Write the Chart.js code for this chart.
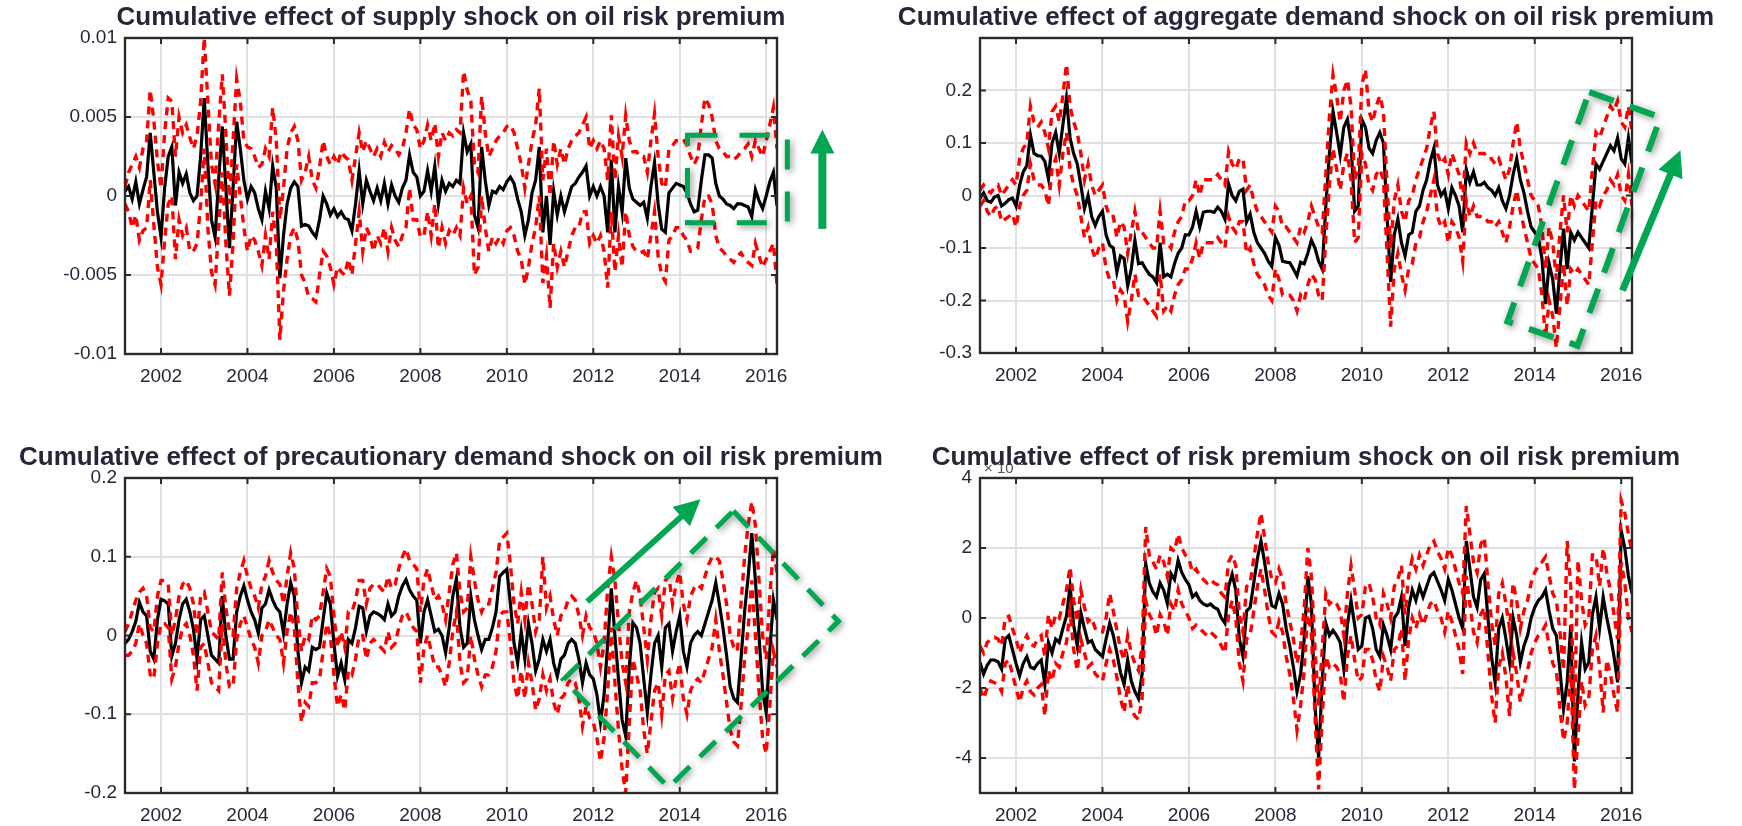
<!DOCTYPE html>
<html>
<head>
<meta charset="utf-8">
<script src="https://cdn.jsdelivr.net/npm/chart.js@4.4.1/dist/chart.umd.min.js"></script>
<style>
  html, body { margin: 0; padding: 0; background: #fff; width: 1742px; height: 826px; overflow: hidden; position: relative; }
  canvas { position: absolute; }
</style>
</head>
<body>
<script>
// monthly sample, Mar 2001 .. Apr 2016 (182 months)
const firstMonth = 2001 + 2 / 12;
const nMonths = 182;
const months = Array.from({ length: nMonths }, (_, i) => firstMonth + i / 12);
const xTicks = [2002, 2004, 2006, 2008, 2010, 2012, 2014, 2016];

// ---- supply shock (units of 1e-3) ----
const supplyMid = [
  0.3, 0.6, -0.2, 0.9, -0.5, 0.4, 1.2, 4.0, 1.5, -1.0,
  -2.6, 0.5, 2.5, 3.1, -0.6, 1.5, 0.8, 1.4, 0.2, -0.3, 0.0, 2.5,
  6.2, 2.0, -1.5, -2.6, 1.0, 4.4, 0.5, -3.3, 0.5, 4.7, 3.0, 1.0,
  -0.2, 0.6, 0.2, -0.8, -1.5, 0.3, -0.8, 1.9, 0.5, -5.2, -2.5, -0.5,
  0.5, 0.9, 0.6, -1.9, -1.8, -1.9, -2.3, -2.6, -1.5, 0.0, -0.5, -1.2,
  -0.8, -1.3, -1.0, -1.4, -1.5, -2.2, -0.5, 1.6, -0.5, 1.0, 0.3, -0.3,
  0.5, -0.3, 0.8, -0.5, 0.7, 0.0, -0.4, 0.5, 1.0, 2.6, 1.5, 1.2,
  0.0, 0.3, 1.6, 0.3, 1.9, -0.5, 1.0, 0.3, 0.8, 0.6, 1.0, 0.8,
  4.0, 2.8, 3.3, -1.2, -2.0, 3.1, 1.0, -0.6, 0.3, 0.2, 0.6, 0.4,
  0.9, 1.2, 0.8, -0.2, -1.0, -2.5, -1.5, 0.2, 1.0, 3.1, -2.3, 0.0,
  -3.1, 0.3, -1.2, 0.0, -1.0, -0.2, 0.6, 0.8, 1.2, 1.5, 1.9, 0.0,
  0.6, 0.0, 0.6, 0.0, -2.3, 2.3, -2.3, 0.6, -1.0, 2.4, 0.5, -0.2,
  -0.4, -0.6, -0.4, -1.4, 0.6, 2.1, -0.5, -2.1, -2.3, 0.2, 0.5, 0.8,
  0.7, 0.6, 0.2, -0.5, -1.0, -0.9, 1.0, 2.6, 2.6, 2.4, 0.8, 0.0,
  -0.2, -0.5, -0.6, -0.8, -0.5, -0.5, -0.6, -0.7, -1.3, 0.4, -0.3, -0.8,
  0.0, 0.9, 1.5, -0.6
];
const supplyUp = [
  0.6, 1.5, 2.0, 2.5, 1.8, 3.0, 3.5, 6.7, 4.8, 2.2,
  0.5, 4.0, 6.2, 6.0, 2.5, 5.0, 4.0, 4.5, 3.7, 3.0, 3.8, 6.0,
  10.0, 6.0, 2.0, 0.8, 4.5, 7.7, 4.0, -0.5, 3.5, 7.4, 6.0, 3.5,
  3.1, 3.0, 2.5, 1.8, 2.0, 3.0, 2.5, 5.6, 3.5, -1.5, 0.5, 3.0,
  4.0, 4.4, 3.5, 1.0, 1.5, 2.5, 1.0, 0.5, 1.8, 3.5, 2.5, 2.0,
  2.5, 2.0, 2.8, 2.5, 2.3, 1.0, 2.5, 4.0, 2.8, 3.5, 3.0, 2.5,
  3.0, 2.5, 3.4, 2.8, 3.2, 3.0, 2.6, 3.0, 4.0, 5.5, 4.5, 4.2,
  3.0, 3.5, 4.5, 3.5, 4.6, 2.5, 4.0, 3.5, 4.0, 3.8, 4.2, 4.0,
  7.9, 6.7, 6.0, 2.0, 1.5, 6.3, 4.0, 2.5, 3.0, 3.5, 3.8, 4.0,
  4.4, 4.5, 4.0, 3.0, 2.0, 0.5, 2.0, 3.5, 4.5, 6.8, 1.0, 3.0,
  0.0, 3.5, 2.0, 3.0, 2.0, 3.0, 3.5, 3.8, 4.0, 4.5, 5.0, 3.0,
  3.5, 3.0, 3.5, 3.0, 1.0, 5.1, 1.0, 3.8, 2.5, 5.1, 3.5, 2.8,
  2.8, 2.5, 2.5, 1.5, 3.5, 5.2, 2.5, 0.8, 0.5, 3.0, 3.2, 3.5,
  3.5, 3.6, 3.2, 2.5, 2.0, 2.5, 4.5, 6.2, 5.8, 5.0, 3.5, 3.0,
  2.8, 2.5, 2.5, 2.3, 2.5, 2.8, 3.0, 3.3, 2.5, 3.5, 3.0, 2.5,
  3.5, 4.5, 5.6, 3.0
];
const supplyLow = [
  -0.5, -1.0, -2.0, -1.2, -2.8, -2.2, -2.0, 1.0, -1.8, -4.5,
  -5.6, -2.8, -0.5, 0.0, -4.0, -1.5, -2.5, -2.0, -3.5, -3.5, -3.0, -0.5,
  3.0, -2.0, -4.8, -5.6, -2.0, 1.5, -3.0, -6.3, -3.0, 2.0, 0.0, -2.0,
  -3.5, -2.5, -2.8, -3.5, -4.4, -2.5, -4.0, -1.0, -3.0, -9.1, -6.0, -4.0,
  -2.5, -2.0, -2.8, -5.0, -5.5, -6.4, -6.5, -6.7, -5.0, -3.5, -3.8, -4.5,
  -5.6, -4.5, -4.8, -5.0, -4.0, -5.0, -3.0, -1.0, -3.5, -2.0, -2.5, -3.5,
  -2.5, -3.0, -2.0, -3.5, -2.0, -2.8, -3.2, -2.5, -2.0, 0.5, -1.5, -1.5,
  -2.6, -2.5, -1.0, -2.5, -0.5, -3.3, -2.0, -3.0, -2.2, -2.5, -2.0, -2.5,
  0.5, -0.5, 0.0, -5.0, -4.5, 0.0, -2.0, -3.5, -2.6, -3.0, -2.6, -3.0,
  -2.2, -2.0, -2.5, -3.5, -4.0, -5.6, -4.5, -3.0, -2.0, 0.0, -5.5, -3.8,
  -7.1, -3.0, -4.5, -3.5, -4.5, -3.5, -2.5, -2.0, -2.0, -1.0, -1.0, -3.0,
  -2.5, -3.0, -2.5, -3.5, -5.8, -1.0, -4.8, -2.5, -4.5, -1.0, -2.5, -3.2,
  -3.5, -3.6, -3.5, -4.0, -2.5, -1.0, -3.8, -5.0, -5.4, -2.8, -2.5, -2.0,
  -2.0, -2.5, -2.8, -3.5, -3.5, -3.3, -1.5, 0.0, 0.0, -0.5, -2.5, -3.3,
  -3.5, -3.8, -4.0, -4.2, -3.8, -3.6, -4.0, -4.2, -4.4, -3.0, -3.8, -4.5,
  -4.0, -3.5, -3.0, -5.6
];
const supplyTicks = [-10, -5, 0, 5, 10];
const supplyTickLabels = ['-0.01', '-0.005', '0', '0.005', '0.01'];

// ---- aggregate demand shock ----
const demandMid = [
  -0.006, 0.005, -0.01, -0.013, -0.003, 0.0, -0.02, -0.015, -0.008, -0.005,
  -0.02, 0.02, 0.045, 0.057, 0.115, 0.08, 0.076, 0.075, 0.065, 0.032, 0.1, 0.12,
  0.08, 0.134, 0.185, 0.11, 0.08, 0.06, 0.02, -0.025, 0.0, -0.04, -0.057, -0.04,
  -0.03, -0.075, -0.095, -0.1, -0.146, -0.115, -0.12, -0.172, -0.14, -0.085, -0.13, -0.128,
  -0.14, -0.15, -0.155, -0.166, -0.09, -0.155, -0.15, -0.155, -0.13, -0.11, -0.1, -0.075,
  -0.075, -0.06, -0.03, -0.06, -0.032, -0.03, -0.03, -0.032, -0.022, -0.03, -0.045, 0.022,
  0.0, -0.01, 0.008, 0.012, -0.05, -0.035, -0.07, -0.09, -0.1, -0.11, -0.125, -0.135,
  -0.08, -0.095, -0.125, -0.127, -0.128, -0.14, -0.153, -0.127, -0.13, -0.11, -0.085, -0.1,
  -0.125, -0.14, -0.02, 0.08, 0.16, 0.12, 0.077, 0.13, 0.145, 0.1, -0.03, -0.02,
  0.145, 0.13, 0.09, 0.08, 0.105, 0.12, 0.1, -0.04, -0.165, -0.075, -0.045, -0.09,
  -0.115, -0.075, -0.07, -0.03, -0.02, 0.01, 0.03, 0.065, 0.09, 0.02, 0.0, 0.01,
  -0.025, 0.015, 0.0, -0.02, -0.07, 0.05, 0.025, 0.045, 0.02, 0.02, 0.025, 0.015,
  0.01, 0.0, 0.015, -0.01, -0.025, 0.0, 0.04, 0.07, 0.03, 0.005, -0.03, -0.06,
  -0.07, -0.08, -0.12, -0.207, -0.13, -0.16, -0.225, -0.14, -0.063, -0.14, -0.07, -0.085,
  -0.07, -0.08, -0.09, -0.1, -0.02, 0.06, 0.05, 0.065, 0.08, 0.095, 0.085, 0.11,
  0.07, 0.06, 0.11, 0.06
];
const demandUp = [
  0.01, 0.02, 0.01, 0.005, 0.015, 0.02, 0.0, 0.01, 0.02, 0.03,
  0.02, 0.07, 0.09, 0.1, 0.17, 0.14, 0.13, 0.14, 0.12, 0.09, 0.16, 0.17,
  0.14, 0.19, 0.25, 0.17, 0.14, 0.12, 0.08, 0.03, 0.06, 0.02, 0.0, 0.01,
  0.02, -0.02, -0.04, -0.04, -0.08, -0.05, -0.06, -0.11, -0.07, -0.03, -0.07, -0.07,
  -0.08, -0.09, -0.1, -0.1, -0.03, -0.09, -0.09, -0.1, -0.07, -0.05, -0.04, -0.01,
  -0.01, 0.0, 0.03, 0.0, 0.03, 0.03, 0.03, 0.03, 0.04, 0.03, 0.02, 0.083,
  0.06, 0.05, 0.07, 0.07, 0.01, 0.02, -0.01, -0.03, -0.04, -0.05, -0.06, -0.07,
  -0.02, -0.03, -0.06, -0.06, -0.07, -0.08, -0.09, -0.06, -0.07, -0.05, -0.02, -0.04,
  -0.06, -0.07, 0.04, 0.15, 0.23, 0.19, 0.14, 0.2, 0.22, 0.17, 0.03, 0.05,
  0.21, 0.24, 0.16, 0.14, 0.17, 0.19, 0.16, 0.02, -0.1, -0.01, 0.02, -0.03,
  -0.05, -0.01, 0.0, 0.03, 0.05, 0.07, 0.09, 0.13, 0.16, 0.08, 0.06, 0.07,
  0.04, 0.08, 0.06, 0.04, -0.01, 0.1, 0.08, 0.1, 0.08, 0.08, 0.08, 0.07,
  0.07, 0.06, 0.07, 0.05, 0.03, 0.05, 0.1, 0.14, 0.09, 0.06, 0.03, 0.0,
  -0.01, -0.02, -0.06, -0.14, -0.06, -0.09, -0.16, -0.07, 0.0, -0.07, 0.0, -0.02,
  0.0, -0.01, -0.02, -0.03, 0.05, 0.12, 0.11, 0.13, 0.15, 0.17, 0.16, 0.18,
  0.14, 0.13, 0.17, 0.12
];
const demandLow = [
  -0.02, -0.01, -0.03, -0.04, -0.025, -0.02, -0.05, -0.045, -0.04, -0.035,
  -0.06, -0.02, 0.0, 0.01, 0.06, 0.03, 0.02, 0.02, 0.01, -0.02, 0.05, 0.07,
  0.02, 0.08, 0.12, 0.05, 0.02, 0.0, -0.04, -0.08, -0.06, -0.1, -0.12, -0.1,
  -0.09, -0.14, -0.16, -0.16, -0.2, -0.18, -0.19, -0.24, -0.2, -0.15, -0.19, -0.19,
  -0.2, -0.21, -0.22, -0.23, -0.15, -0.22, -0.21, -0.22, -0.19, -0.17, -0.16, -0.14,
  -0.14, -0.12, -0.09, -0.12, -0.09, -0.09, -0.09, -0.09, -0.08, -0.09, -0.1, -0.04,
  -0.06, -0.07, -0.05, -0.05, -0.11, -0.1, -0.13, -0.15, -0.16, -0.17, -0.19, -0.2,
  -0.14, -0.16, -0.19, -0.19, -0.19, -0.2, -0.22, -0.19, -0.2, -0.17, -0.15, -0.16,
  -0.19, -0.2, -0.08, 0.02, 0.09, 0.05, 0.01, 0.06, 0.08, 0.03, -0.09, -0.08,
  0.08, 0.06, 0.02, 0.01, 0.04, 0.05, 0.03, -0.11, -0.25, -0.14, -0.11, -0.15,
  -0.18, -0.14, -0.13, -0.09, -0.08, -0.05, -0.03, 0.0, 0.03, -0.04, -0.06, -0.05,
  -0.09, -0.05, -0.06, -0.08, -0.125, -0.01, -0.04, -0.02, -0.04, -0.04, -0.04, -0.05,
  -0.05, -0.06, -0.05, -0.07, -0.09, -0.06, -0.02, 0.01, -0.03, -0.06, -0.09, -0.12,
  -0.13, -0.14, -0.19, -0.27, -0.2, -0.23, -0.29, -0.21, -0.13, -0.21, -0.14, -0.15,
  -0.14, -0.15, -0.16, -0.17, -0.09, -0.01, -0.02, 0.0, 0.01, 0.03, 0.02, 0.04,
  0.0, -0.01, 0.04, -0.02
];
const demandTicks = [-0.3, -0.2, -0.1, 0, 0.1, 0.2];
const demandTickLabels = ['-0.3', '-0.2', '-0.1', '0', '0.1', '0.2'];

// ---- precautionary demand shock ----
const precMid = [
  -0.01, -0.005, 0.005, 0.018, 0.042, 0.03, 0.025, -0.02, -0.03, 0.02,
  0.046, 0.044, 0.04, -0.026, -0.01, 0.02, 0.04, 0.046, 0.03, 0.008, -0.03, 0.02,
  0.025, 0.0, -0.025, -0.03, -0.035, 0.05, 0.0, -0.03, -0.03, 0.03, 0.05, 0.063,
  0.045, 0.03, 0.02, 0.003, 0.035, 0.04, 0.058, 0.045, 0.035, 0.03, 0.003, 0.04,
  0.067, 0.05, -0.02, -0.06, -0.04, -0.045, -0.015, -0.018, -0.015, 0.02, 0.054, 0.04,
  -0.01, -0.052, -0.035, -0.056, -0.005, -0.01, 0.01, 0.037, 0.035, 0.005, 0.025, 0.03,
  0.028, 0.025, 0.02, 0.04, 0.025, 0.03, 0.05, 0.063, 0.071, 0.058, 0.05, 0.045,
  -0.01, 0.03, 0.045, 0.025, 0.005, 0.008, 0.0, -0.022, 0.01, 0.05, 0.072, 0.01,
  -0.015, -0.01, 0.05, 0.02, 0.0, -0.018, -0.005, -0.005, 0.01, 0.03, 0.075, 0.08,
  0.084, 0.04, -0.01, -0.035, 0.005, -0.03, 0.015, -0.01, -0.045, -0.03, -0.005, -0.02,
  -0.005, -0.035, -0.052, -0.03, -0.025, -0.01, -0.005, -0.01, -0.03, -0.06, -0.035, -0.05,
  -0.055, -0.075, -0.11, -0.075, -0.01, 0.06, 0.0, -0.055, -0.107, -0.128, -0.04, 0.016,
  0.01, -0.01, -0.055, -0.098, -0.05, -0.01, 0.0, -0.04, 0.01, 0.015, -0.02, 0.005,
  0.025, -0.02, -0.04, -0.01, 0.0, 0.005, 0.0, 0.015, 0.03, 0.045, 0.067, 0.04,
  0.01, -0.025, -0.065, -0.08, -0.085, -0.03, 0.03, 0.075, 0.13, 0.07, 0.0, -0.07,
  -0.098, -0.02, 0.045, 0.02
];
const precUp = [
  0.005, 0.015, 0.03, 0.045, 0.055, 0.06, 0.05, 0.01, 0.005, 0.05,
  0.07, 0.07, 0.065, 0.0, 0.02, 0.05, 0.065, 0.07, 0.06, 0.04, 0.0, 0.05,
  0.055, 0.03, 0.005, 0.0, -0.005, 0.08, 0.035, 0.005, 0.0, 0.06, 0.08, 0.095,
  0.075, 0.06, 0.05, 0.035, 0.065, 0.075, 0.095, 0.08, 0.07, 0.065, 0.04, 0.075,
  0.105, 0.085, 0.02, -0.02, 0.0, -0.005, 0.025, 0.02, 0.025, 0.055, 0.085, 0.075,
  0.025, -0.015, 0.005, -0.015, 0.03, 0.03, 0.045, 0.07, 0.07, 0.04, 0.06, 0.065,
  0.065, 0.06, 0.055, 0.075, 0.06, 0.065, 0.085, 0.1, 0.11, 0.095, 0.09, 0.085,
  0.03, 0.07, 0.085, 0.065, 0.045, 0.05, 0.04, 0.02, 0.055, 0.09, 0.105, 0.055,
  0.03, 0.035, 0.1, 0.07, 0.045, 0.03, 0.04, 0.04, 0.06, 0.08, 0.12, 0.125,
  0.13, 0.09, 0.04, 0.015, 0.055, 0.02, 0.065, 0.04, 0.005, 0.02, 0.1, 0.035,
  0.05, 0.02, 0.0, 0.025, 0.03, 0.045, 0.05, 0.045, 0.025, 0.0, 0.025, 0.01,
  0.005, -0.01, -0.04, -0.01, 0.06, 0.1, 0.07, 0.015, -0.035, -0.06, 0.03, 0.055,
  0.07, 0.05, 0.01, -0.03, 0.02, 0.055, 0.06, 0.025, 0.07, 0.075, 0.04, 0.065,
  0.08, 0.04, 0.02, 0.05, 0.06, 0.065, 0.06, 0.075, 0.09, 0.1, 0.1, 0.095,
  0.07, 0.04, 0.0, -0.015, -0.02, 0.04, 0.1, 0.14, 0.17, 0.14, 0.07, 0.0,
  -0.03, 0.05, 0.11, 0.08
];
const precLow = [
  -0.025, -0.025, -0.02, -0.01, 0.015, 0.0, -0.01, -0.05, -0.055, -0.01,
  0.015, 0.015, 0.01, -0.055, -0.04, -0.01, 0.01, 0.015, 0.0, -0.025, -0.07, -0.015,
  -0.01, -0.035, -0.06, -0.065, -0.07, 0.015, -0.035, -0.065, -0.065, -0.005, 0.015, 0.025,
  0.01, -0.005, -0.015, -0.035, 0.0, 0.005, 0.02, 0.01, 0.0, -0.005, -0.035, 0.005,
  0.03, 0.01, -0.06, -0.11, -0.085, -0.09, -0.06, -0.06, -0.055, -0.02, 0.015, 0.0,
  -0.05, -0.09, -0.075, -0.095, -0.045, -0.05, -0.03, 0.0, 0.0, -0.03, -0.01, -0.005,
  -0.01, -0.015, -0.02, 0.005, -0.015, -0.01, 0.01, 0.025, 0.03, 0.02, 0.01, 0.005,
  -0.06, -0.015, 0.0, -0.02, -0.04, -0.04, -0.05, -0.065, -0.035, 0.005, 0.03, -0.035,
  -0.06, -0.055, 0.0, -0.03, -0.05, -0.065, -0.05, -0.05, -0.04, -0.02, 0.025, 0.03,
  0.03, -0.01, -0.06, -0.08, -0.045, -0.08, -0.035, -0.06, -0.095, -0.08, -0.05, -0.07,
  -0.055, -0.085, -0.1, -0.08, -0.075, -0.06, -0.055, -0.06, -0.08, -0.115, -0.09, -0.105,
  -0.11, -0.13, -0.16, -0.13, -0.07, 0.01, -0.06, -0.12, -0.17, -0.2, -0.11, -0.03,
  -0.05, -0.07, -0.12, -0.15, -0.11, -0.07, -0.06, -0.1, -0.05, -0.045, -0.08, -0.055,
  -0.035, -0.08, -0.1, -0.07, -0.06, -0.055, -0.06, -0.045, -0.03, -0.015, 0.02, -0.02,
  -0.05, -0.085, -0.12, -0.135, -0.14, -0.09, -0.03, 0.01, 0.07, 0.0, -0.07, -0.13,
  -0.15, -0.09, -0.02, -0.04
];
const precTicks = [-0.2, -0.1, 0, 0.1, 0.2];
const precTickLabels = ['-0.2', '-0.1', '0', '0.1', '0.2'];

// ---- risk premium shock (units of 1e-3) ----
const riskMid = [
  -1.27, -1.6, -1.35, -1.2, -1.2, -1.25, -1.46, -0.6, -0.5, -0.9,
  -1.3, -1.65, -1.3, -1.1, -1.4, -1.45, -1.3, -1.2, -1.9, -0.7, -1.0, -0.6,
  -0.7, -0.3, 0.05, 0.9, -0.2, -0.8, 0.15, -0.3, -0.7, -0.65, -0.9, -1.0,
  -1.1, -0.6, -0.15, -0.5, -1.0, -1.56, -1.9, -1.2, -1.8, -2.1, -2.3, -1.6,
  1.55, 1.0, 0.75, 0.6, 1.0, 0.8, 0.42, 1.27, 1.1, 1.65, 1.3, 1.1,
  0.95, 0.6, 0.7, 0.5, 0.4, 0.35, 0.4, 0.3, 0.25, 0.0, -0.15, 0.9,
  1.25, 0.8, -0.6, -1.1, 0.2, 0.3, 1.0, 1.7, 2.2, 1.6, 0.9, 0.35,
  0.3, 0.7, 0.4, -0.3, -0.8, -1.4, -2.1, -1.6, -0.6, 1.2, 0.4, -2.5,
  -4.0, -1.8, -0.15, -0.5, -0.35, -0.5, -0.7, -1.46, -0.2, 0.5, -0.2, -0.9,
  -0.8, 0.0, 0.05, -0.3, -0.9, -1.1, -0.2, -0.5, -0.9, 0.0, 0.15, 0.6,
  -0.8, 0.3, 0.8, 0.5, 0.9, 0.6, 0.9, 1.2, 1.3, 1.05, 0.8, 0.5,
  1.1, 0.8, 0.4, 0.0, -0.3, 2.2, 1.4, 0.6, 0.3, 1.1, 1.27, 0.0,
  -1.1, -1.84, -0.3, 0.0, -0.6, -1.27, 0.0, -0.5, -1.27, -0.8, -0.5, 0.0,
  0.3, 0.5, 0.6, 0.8, 0.2, -0.3, -0.5, -1.5, -2.6, -1.84, -0.2, -4.1,
  -2.2, -0.7, -1.46, -1.27, 0.1, 0.6, -0.3, 0.6, 0.0, -0.5, -1.1, -1.84,
  2.5, 2.0, 1.2, 0.7
];
const riskUp = [
  -0.8, -1.0, -0.7, -0.6, -0.55, -0.6, -0.8, 0.0, 0.05, -0.3,
  -0.6, -1.0, -0.7, -0.5, -0.75, -0.8, -0.6, -0.5, -1.1, 0.1, -0.3, 0.1,
  0.0, 0.4, 0.8, 1.46, 0.5, -0.1, 0.8, 0.3, -0.1, 0.0, -0.3, -0.4,
  -0.4, 0.0, 0.7, 0.2, -0.35, -0.9, -1.2, -0.5, -1.0, -1.3, -1.5, -0.8,
  2.6, 1.8, 1.6, 1.4, 1.8, 1.6, 1.2, 2.0, 1.9, 2.4, 2.0, 1.8,
  1.7, 1.3, 1.4, 1.2, 1.1, 1.0, 1.1, 1.0, 0.95, 0.7, 0.6, 1.6,
  1.8, 1.5, 0.1, -0.4, 0.9, 1.0, 1.7, 2.4, 3.0, 2.3, 1.6, 1.1,
  1.0, 1.4, 1.1, 0.4, -0.1, -0.6, -1.3, -0.8, 0.3, 2.0, 1.2, -0.9,
  -2.5, -0.9, 0.7, 0.4, 0.5, 0.4, 0.2, -0.5, 0.7, 1.5, 0.8, 0.0,
  0.1, 0.9, 1.0, 0.6, 0.0, -0.2, 0.7, 0.4, 0.0, 0.9, 1.1, 1.5,
  0.1, 1.2, 1.7, 1.4, 1.8, 1.5, 1.8, 2.1, 2.2, 1.9, 1.7, 1.4,
  2.0, 1.8, 1.4, 1.0, 0.7, 3.2, 2.4, 1.6, 1.3, 2.1, 2.3, 1.0,
  -0.1, -0.8, 0.7, 1.0, 0.4, -0.3, 1.0, 0.5, -0.3, 0.2, 0.5, 1.0,
  1.3, 1.5, 1.6, 1.75, 1.2, 0.7, 0.5, -0.4, -1.5, 2.2, 0.9, -3.0,
  1.65, 0.5, -0.2, 0.0, 1.8, 1.8, 0.9, 2.0, 1.3, 0.8, 0.1, -0.6,
  3.35, 3.0, 2.4, 1.9
];
const riskLow = [
  -2.0, -2.3, -2.0, -1.8, -1.85, -1.9, -2.1, -1.3, -1.2, -1.6,
  -2.0, -2.4, -2.0, -1.8, -2.1, -2.2, -2.0, -1.9, -2.8, -1.5, -1.8, -1.3,
  -1.4, -1.0, -0.7, 0.2, -0.9, -1.5, -0.6, -1.0, -1.4, -1.3, -1.6, -1.7,
  -1.8, -1.3, -0.9, -1.2, -1.7, -2.3, -2.7, -1.9, -2.6, -2.8, -2.9, -2.3,
  0.5, 0.1, -0.1, -0.5, 0.1, -0.1, -0.5, 0.4, 0.2, 0.8, 0.4, 0.2,
  0.0, -0.3, -0.2, -0.3, -0.4, -0.5, -0.4, -0.5, -0.6, -0.8, -1.0, 0.1,
  0.5, 0.0, -1.3, -1.8, -0.6, -0.5, 0.2, 0.9, 1.4, 0.8, 0.1, -0.4,
  -0.5, -0.1, -0.4, -1.1, -1.6, -2.3, -3.2, -2.5, -1.5, 0.3, -0.5, -2.8,
  -4.9, -2.8, -1.1, -1.4, -1.3, -1.4, -1.6, -2.4, -1.1, -0.5, -1.2, -1.8,
  -1.7, -0.9, -0.9, -1.2, -1.8, -2.1, -1.1, -1.4, -1.8, -0.9, -0.8, -0.3,
  -1.8, -0.6, 0.0, -0.3, 0.1, -0.2, 0.1, 0.4, 0.5, 0.2, 0.0, -0.4,
  0.2, -0.1, -0.5, -0.9, -1.6, 1.2, 0.4, -0.4, -0.7, 0.1, 0.3, -1.0,
  -2.2, -3.0, -1.4, -1.0, -1.7, -2.8, -1.0, -1.6, -2.4, -1.9, -1.5, -1.0,
  -0.7, -0.5, -0.4, -0.2, -0.8, -1.3, -1.5, -2.6, -3.5, -3.0, -1.4, -4.9,
  -3.4, -1.8, -2.5, -2.3, -0.9, -0.5, -1.4, -2.7, -1.2, -1.6, -2.2, -2.7,
  1.6, 1.0, 0.0, -0.4
];
const riskTicks = [-4, -2, 0, 2, 4];
const riskTickLabels = ['-4', '-2', '0', '2', '4'];

[supplyMid, supplyUp, supplyLow, demandMid, demandUp, demandLow, precMid, precUp, precLow, riskMid, riskUp, riskLow]
  .forEach((a, k) => { if (a.length !== nMonths) throw new Error('series ' + k + ' has ' + a.length); });

const GREEN = '#00a651';
const INK = '#262638';
const FONT = '"Liberation Sans", Arial, sans-serif';

const decoPlugin = {
  id: 'deco',
  afterDatasetsDraw(chart) {
    const { ctx, chartArea: a, scales: { x, y } } = chart;
    ctx.save();
    ctx.strokeStyle = '#2a2a2a';
    ctx.lineWidth = 2;
    ctx.beginPath();
    x.ticks.forEach(t => {
      const px = x.getPixelForValue(t.value);
      ctx.moveTo(px, a.bottom); ctx.lineTo(px, a.bottom - 6);
      ctx.moveTo(px, a.top); ctx.lineTo(px, a.top + 6);
    });
    y.ticks.forEach(t => {
      const py = y.getPixelForValue(t.value);
      ctx.moveTo(a.left, py); ctx.lineTo(a.left + 6, py);
      ctx.moveTo(a.right, py); ctx.lineTo(a.right - 6, py);
    });
    ctx.stroke();
    ctx.lineWidth = 2.4;
    ctx.strokeRect(a.left, a.top, a.right - a.left, a.bottom - a.top);
    ctx.restore();
  },
  afterDraw(chart, args, o) {
    const { ctx, chartArea: a, scales: { x, y } } = chart;
    ctx.save();
    if (o.exponent) {
      ctx.fillStyle = '#555';
      ctx.textBaseline = 'alphabetic';
      ctx.textAlign = 'left';
      ctx.font = '15px ' + FONT;
      ctx.fillText('\u00d7 10', a.left + 4, a.top - 5);
      const w = ctx.measureText('\u00d7 10').width;
      ctx.font = '12px ' + FONT;
      ctx.fillText('-3', a.left + 5 + w, a.top - 13);
    }
    ctx.fillStyle = INK;
    ctx.font = 'bold 26px ' + FONT;
    ctx.textAlign = 'center';
    ctx.textBaseline = 'middle';
    ctx.fillText(o.title, (a.left + a.right) / 2, o.titleY);

    const P = p => [x.getPixelForValue(p[0]), y.getPixelForValue(p[1])];
    (o.shapes || []).forEach(s => {
      ctx.save();
      ctx.strokeStyle = GREEN;
      ctx.fillStyle = GREEN;
      if (s.kind === 'poly') {
        ctx.lineWidth = s.lw;
        ctx.setLineDash(s.dash);
        ctx.lineCap = 'butt';
        ctx.shadowColor = 'rgba(0,0,0,0.45)';
        ctx.shadowBlur = 7;
        ctx.shadowOffsetX = 2;
        ctx.shadowOffsetY = 2;
        ctx.beginPath();
        s.pts.map(P).forEach((p, i) => i ? ctx.lineTo(p[0], p[1]) : ctx.moveTo(p[0], p[1]));
        ctx.closePath();
        ctx.stroke();
      } else {
        const p0 = P(s.from), p1 = P(s.to);
        const ang = Math.atan2(p1[1] - p0[1], p1[0] - p0[0]);
        const c = Math.cos(ang), sn = Math.sin(ang);
        const bx = p1[0] - s.head * c, by = p1[1] - s.head * sn;
        ctx.lineWidth = s.lw;
        ctx.beginPath();
        ctx.moveTo(p0[0], p0[1]);
        ctx.lineTo(bx + 2 * c, by + 2 * sn);
        ctx.stroke();
        const hw = s.head * 0.5;
        ctx.beginPath();
        ctx.moveTo(p1[0], p1[1]);
        ctx.lineTo(bx - hw * sn, by + hw * c);
        ctx.lineTo(bx + hw * sn, by - hw * c);
        ctx.closePath();
        ctx.fill();
      }
      ctx.restore();
    });
    ctx.restore();
  }
};

const Y_AXIS_W = 100, X_AXIS_H = 30;

function drawPanel(p) {
  const [cl, ct, cw, ch] = p.canvas;
  const [al, at, ar, ab] = p.area;
  const cv = document.createElement('canvas');
  cv.width = cw; cv.height = ch;
  cv.style.left = cl + 'px';
  cv.style.top = ct + 'px';
  document.body.appendChild(cv);

  const pts = arr => months.map((m, i) => ({ x: m, y: arr[i] }));
  const red = arr => ({
    data: pts(arr), borderColor: '#ff0000', borderWidth: 3.4, borderDash: [8, 6],
    pointRadius: 0, tension: 0, fill: false
  });

  new Chart(cv, {
    type: 'line',
    data: {
      datasets: [
        red(p.up),
        red(p.low),
        { data: pts(p.mid), borderColor: '#000', borderWidth: 3.2, pointRadius: 0, tension: 0, fill: false }
      ]
    },
    options: {
      responsive: false,
      animation: false,
      devicePixelRatio: 1,
      events: [],
      layout: {
        padding: {
          left: al - cl - Y_AXIS_W,
          right: cl + cw - ar,
          top: at - ct,
          bottom: ct + ch - ab - X_AXIS_H
        }
      },
      plugins: {
        legend: { display: false },
        tooltip: { enabled: false },
        deco: { title: p.title, titleY: p.titleY - ct, shapes: p.shapes, exponent: p.exponent }
      },
      scales: {
        x: {
          type: 'linear',
          min: firstMonth,
          max: months[nMonths - 1],
          afterBuildTicks: s => { s.ticks = xTicks.map(v => ({ value: v })); },
          afterFit: s => { s.height = X_AXIS_H; },
          ticks: {
            autoSkip: false, maxRotation: 0, padding: 11,
            color: INK, font: { family: FONT, size: 19 },
            callback: v => String(v)
          },
          grid: { color: '#e0e0e0', lineWidth: 2, drawTicks: false },
          border: { display: false }
        },
        y: {
          min: p.yMin,
          max: p.yMax,
          afterBuildTicks: s => { s.ticks = p.ticks.map(v => ({ value: v })); },
          afterFit: s => { s.width = Y_AXIS_W; },
          ticks: {
            padding: 8, color: INK, font: { family: FONT, size: 19 },
            callback: (v, i) => p.tickLabels[i]
          },
          grid: { color: '#e0e0e0', lineWidth: 2, drawTicks: false },
          border: { display: false }
        }
      }
    },
    plugins: [decoPlugin]
  });
}

drawPanel({
  canvas: [0, 0, 871, 413], area: [125, 38, 777, 354], titleY: 18,
  title: 'Cumulative effect of supply shock on oil risk premium',
  mid: supplyMid, up: supplyUp, low: supplyLow,
  yMin: -10, yMax: 10, ticks: supplyTicks, tickLabels: supplyTickLabels,
  shapes: [
    { kind: 'poly', pts: [[2014.18, 3.84], [2016.49, 3.84], [2016.49, -1.7], [2014.18, -1.7]], lw: 5, dash: [30, 22] },
    { kind: 'arrow', from: [2017.3, -2.08], to: [2017.3, 4.21], lw: 8, head: 24 }
  ]
});

drawPanel({
  canvas: [871, 0, 871, 413], area: [980, 38, 1632, 353], titleY: 18,
  title: 'Cumulative effect of aggregate demand shock on oil risk premium',
  mid: demandMid, up: demandUp, low: demandLow,
  yMin: -0.3, yMax: 0.3, ticks: demandTicks, tickLabels: demandTickLabels,
  shapes: [
    { kind: 'poly', pts: [[2015.26, 0.197], [2016.91, 0.149], [2014.99, -0.286], [2013.37, -0.24]], lw: 6, dash: [26, 17] },
    { kind: 'arrow', from: [2016.03, -0.181], to: [2017.37, 0.086], lw: 7, head: 26 }
  ]
});

drawPanel({
  canvas: [0, 413, 900, 413], area: [125, 478, 777, 793], titleY: 458,
  title: 'Cumulative effect of precautionary demand shock on oil risk premium',
  mid: precMid, up: precUp, low: precLow,
  yMin: -0.2, yMax: 0.2, ticks: precTicks, tickLabels: precTickLabels,
  shapes: [
    { kind: 'poly', pts: [[2015.24, 0.158], [2017.67, 0.018], [2013.74, -0.193], [2011.31, -0.056]], lw: 5, dash: [22, 14] },
    { kind: 'arrow', from: [2011.86, 0.043], to: [2014.48, 0.173], lw: 6, head: 26 }
  ]
});

drawPanel({
  canvas: [871, 413, 871, 413], area: [980, 478, 1632, 793], titleY: 458,
  title: 'Cumulative effect of risk premium shock on oil risk premium',
  mid: riskMid, up: riskUp, low: riskLow,
  yMin: -5, yMax: 4, ticks: riskTicks, tickLabels: riskTickLabels,
  exponent: true
});
</script>
</body>
</html>
